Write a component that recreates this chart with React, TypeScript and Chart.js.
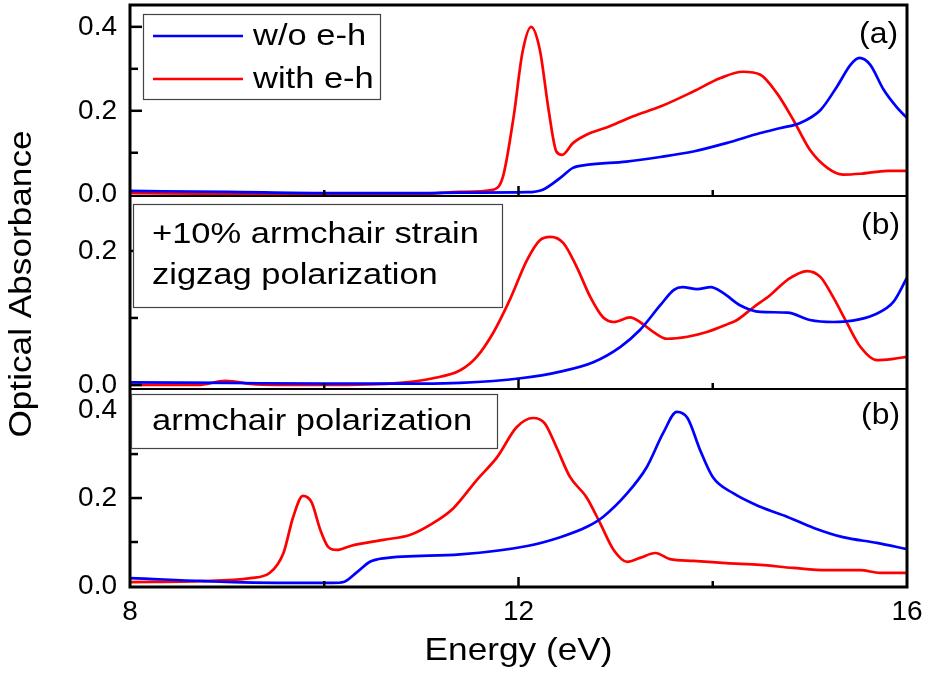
import React, { useEffect, useRef } from 'react';
import { Chart, registerables } from 'chart.js';

Chart.register(...registerables);

// ---------- axis ticks ----------
const xTickLabels = [8, 12, 16];
const xMinorTicks = [10, 14];
const yTicksA = [0, 0.2, 0.4];
const yMinorA = [0.1, 0.3];
const yTicksB = [0, 0.2];
const yMinorB = [0.1];
const yTicksC = [0, 0.2, 0.4];
const yMinorC = [0.1, 0.3];

// ---------- texts ----------
const seriesNames = ['w/o e-h', 'with e-h'];
const panelTags = ['(a)', '(b)', '(b)'];
const boxTextB = ['+10% armchair strain', 'zigzag polarization'];
const boxTextC = ['armchair polarization'];
const xTitle = 'Energy (eV)';
const yTitle = 'Optical Absorbance';

// ---------- panel (a) ----------
const aBlueE = [8, 9, 10, 11, 11.4, 12.09, 12.25, 12.43, 12.56, 12.7, 13.11, 13.46, 13.8, 14.14, 14.49, 14.7, 14.9, 15.11, 15.28, 15.42, 15.51, 15.62, 15.76, 15.9, 16.0];
const aBlueV = [0.009, 0.007, 0.004, 0.004, 0.005, 0.006, 0.012, 0.04, 0.064, 0.071, 0.079, 0.09, 0.103, 0.123, 0.147, 0.159, 0.171, 0.202, 0.258, 0.31, 0.326, 0.31, 0.25, 0.207, 0.183];
const aRedE = [8, 9, 10, 11, 11.4, 11.74, 11.84, 11.95, 12.04, 12.13, 12.22, 12.31, 12.39, 12.45, 12.56, 12.7, 12.94, 13.18, 13.46, 13.8, 14.08, 14.31, 14.49, 14.66, 14.83, 15.0, 15.18, 15.34, 15.52, 15.8, 16.0];
const aRedV = [0.004, 0.002, 0.001, 0.002, 0.007, 0.012, 0.043, 0.186, 0.338, 0.4, 0.345, 0.202, 0.103, 0.095, 0.123, 0.143, 0.163, 0.187, 0.21, 0.246, 0.278, 0.293, 0.286, 0.242, 0.178, 0.107, 0.064, 0.048, 0.05, 0.057, 0.057];

// ---------- panel (b) zigzag ----------
const bBlueE = [8, 9, 10, 11, 11.4, 12.02, 12.43, 12.77, 13.05, 13.25, 13.46, 13.6, 13.69, 13.84, 13.98, 14.11, 14.28, 14.49, 14.77, 15.0, 15.24, 15.44, 15.65, 15.86, 16];
const bBlueV = [0.004, 0.003, 0.002, 0.002, 0.003, 0.01, 0.02, 0.034, 0.057, 0.082, 0.119, 0.142, 0.146, 0.143, 0.146, 0.137, 0.119, 0.109, 0.108, 0.097, 0.094, 0.096, 0.104, 0.124, 0.16];
const bRedE = [8, 8.7, 8.98, 9.3, 10, 10.78, 11.12, 11.4, 11.57, 11.74, 11.91, 12.09, 12.22, 12.33, 12.46, 12.6, 12.74, 12.87, 12.98, 13.15, 13.25, 13.39, 13.53, 13.74, 13.94, 14.14, 14.25, 14.42, 14.59, 14.77, 14.97, 15.11, 15.24, 15.38, 15.52, 15.69, 15.86, 16];
const bRedV = [0.0, 0.0, 0.006, 0.001, 0.0, 0.003, 0.01, 0.022, 0.042, 0.078, 0.127, 0.187, 0.216, 0.221, 0.212, 0.176, 0.131, 0.101, 0.094, 0.101, 0.094, 0.079, 0.069, 0.072, 0.079, 0.09, 0.097, 0.116, 0.134, 0.157, 0.17, 0.161, 0.131, 0.093, 0.057, 0.037, 0.039, 0.042];

// ---------- panel (c) armchair ----------
const cBlueE = [8, 9.06, 10.09, 10.2, 10.34, 10.47, 10.61, 11.4, 12.09, 12.43, 12.7, 12.87, 13.12, 13.32, 13.49, 13.63, 13.74, 13.87, 14.0, 14.21, 14.49, 14.77, 15.04, 15.34, 15.69, 16];
const cBlueV = [0.018, 0.009, 0.007, 0.009, 0.032, 0.055, 0.063, 0.072, 0.091, 0.111, 0.134, 0.157, 0.211, 0.27, 0.348, 0.396, 0.382, 0.309, 0.248, 0.211, 0.18, 0.157, 0.132, 0.111, 0.098, 0.084];
const cRedE = [8, 8.72, 9.24, 9.44, 9.58, 9.68, 9.78, 9.87, 9.96, 10.04, 10.13, 10.27, 10.61, 10.88, 11.12, 11.33, 11.57, 11.78, 11.98, 12.15, 12.27, 12.39, 12.53, 12.7, 12.84, 12.98, 13.12, 13.25, 13.41, 13.56, 13.8, 14.14, 14.49, 14.83, 15.18, 15.52, 15.72, 16];
const cRedV = [0.009, 0.011, 0.018, 0.03, 0.075, 0.157, 0.205, 0.19, 0.127, 0.089, 0.082, 0.091, 0.105, 0.116, 0.143, 0.177, 0.241, 0.293, 0.361, 0.382, 0.37, 0.316, 0.248, 0.202, 0.143, 0.082, 0.055, 0.064, 0.075, 0.061, 0.057, 0.052, 0.048, 0.041, 0.036, 0.036, 0.03, 0.03];

const BLUE = '#0000ff';
const RED = '#ff0000';
const FONT = "'Liberation Sans', Arial, Helvetica, sans-serif";

const toPts = (xs: number[], ys: number[]) => xs.map((x, i) => ({ x, y: ys[i] }));

const line = (label: string, color: string, xs: number[], ys: number[], axis: string) => ({
  label,
  data: toPts(xs, ys),
  borderColor: color,
  backgroundColor: color,
  borderWidth: 2.7,
  pointRadius: 0,
  fill: false,
  cubicInterpolationMode: 'monotone' as const,
  yAxisID: axis,
});

// text drawn with a slight horizontal stretch, like the source figure
function stretchedText(
  ctx: CanvasRenderingContext2D,
  text: string,
  x: number,
  y: number,
  size: number,
  sx: number,
  align: CanvasTextAlign,
  rot = 0
) {
  ctx.save();
  ctx.translate(x, y);
  if (rot) ctx.rotate(rot);
  ctx.scale(sx, 1);
  ctx.font = `${size}px ${FONT}`;
  ctx.textAlign = align;
  ctx.textBaseline = 'middle';
  ctx.fillStyle = '#000';
  ctx.fillText(text, 0, 0);
  ctx.restore();
}

const decorPlugin = {
  id: 'decor',
  afterDatasetsDraw(chart: any) {
    const ctx = chart.ctx;
    const area = chart.chartArea;
    const L = area.left;
    const R = area.right;
    const panels = [
      { s: chart.scales.yA, major: yTicksA, minor: yMinorA },
      { s: chart.scales.yB, major: yTicksB, minor: yMinorB },
      { s: chart.scales.yC, major: yTicksC, minor: yMinorC },
    ];
    const xs = chart.scales.x;
    ctx.save();
    ctx.strokeStyle = '#000';
    ctx.lineCap = 'butt';
    // inward tick marks
    panels.forEach((p) => {
      const top = p.s.top;
      const bot = p.s.bottom;
      ctx.lineWidth = 2.5;
      p.major.forEach((v: number) => {
        const y = p.s.getPixelForValue(v);
        if (y < top + 2 || y > bot - 2) return;
        ctx.beginPath();
        ctx.moveTo(L, y);
        ctx.lineTo(L + 12, y);
        ctx.stroke();
      });
      p.minor.forEach((v: number) => {
        const y = p.s.getPixelForValue(v);
        ctx.beginPath();
        ctx.moveTo(L, y);
        ctx.lineTo(L + 8, y);
        ctx.stroke();
      });
      xTickLabels.forEach((v) => {
        const x = xs.getPixelForValue(v);
        if (x < L + 2 || x > R - 2) return;
        ctx.beginPath();
        ctx.moveTo(x, bot);
        ctx.lineTo(x, bot - 10);
        ctx.stroke();
      });
      xMinorTicks.forEach((v) => {
        const x = xs.getPixelForValue(v);
        ctx.beginPath();
        ctx.moveTo(x, bot);
        ctx.lineTo(x, bot - 6);
        ctx.stroke();
      });
    });
    // panel separators
    ctx.lineWidth = 2.2;
    [chart.scales.yA.bottom, chart.scales.yB.bottom].forEach((y: number) => {
      ctx.beginPath();
      ctx.moveTo(L, y);
      ctx.lineTo(R, y);
      ctx.stroke();
    });
    // outer frame
    ctx.lineWidth = 3;
    ctx.strokeRect(L, area.top, R - L, area.bottom - area.top);

    // legend box (panel a)
    ctx.fillStyle = '#fff';
    ctx.fillRect(143, 14, 237, 85);
    ctx.lineWidth = 1.2;
    ctx.strokeStyle = '#444';
    ctx.strokeRect(143.5, 14.5, 237, 85);
    const legendRows = [
      { c: BLUE, y: 36, t: seriesNames[0] },
      { c: RED, y: 79, t: seriesNames[1] },
    ];
    legendRows.forEach((r) => {
      ctx.strokeStyle = r.c;
      ctx.lineWidth = 2.7;
      ctx.beginPath();
      ctx.moveTo(153, r.y);
      ctx.lineTo(243, r.y);
      ctx.stroke();
      stretchedText(ctx, r.t, 253, r.y + 1, 30, 1.15, 'left');
    });

    // text box panel b
    ctx.fillStyle = '#fff';
    ctx.fillRect(133, 204, 369, 103);
    ctx.strokeStyle = '#444';
    ctx.lineWidth = 1.2;
    ctx.strokeRect(133.5, 204.5, 369, 103);
    stretchedText(ctx, boxTextB[0], 152, 235, 30, 1.15, 'left');
    stretchedText(ctx, boxTextB[1], 152, 276, 30, 1.15, 'left');

    // text box panel c
    ctx.fillStyle = '#fff';
    ctx.fillRect(131, 394, 366, 54);
    ctx.strokeStyle = '#444';
    ctx.lineWidth = 1.2;
    ctx.strokeRect(131.5, 394.5, 366, 54);
    stretchedText(ctx, boxTextC[0], 152, 422, 30, 1.15, 'left');

    // panel tags
    stretchedText(ctx, panelTags[0], 898, 35, 29, 1.1, 'right');
    stretchedText(ctx, panelTags[1], 900, 226, 29, 1.1, 'right');
    stretchedText(ctx, panelTags[2], 900, 416, 29, 1.1, 'right');

    // axis titles
    stretchedText(ctx, xTitle, (L + R) / 2, 651, 32, 1.1, 'center');
    stretchedText(ctx, yTitle, 22, 284, 32, 1.1, 'center', -Math.PI / 2);

    ctx.restore();
  },
};

const yAxis = (min: number, max: number, weight: number, ticks: number[]) => ({
  type: 'linear' as const,
  position: 'left' as const,
  stack: 'panels',
  stackWeight: weight,
  min,
  max,
  offset: false,
  grid: { display: false, drawTicks: false },
  border: { display: false },
  afterBuildTicks: (s: any) => {
    s.ticks = ticks.map((v) => ({ value: v }));
  },
  afterFit: (s: any) => {
    s.width = 130;
    s.paddingTop = 0;
    s.paddingBottom = 0;
  },
  ticks: {
    padding: 13,
    color: '#000',
    font: { family: FONT, size: 28 },
    callback: (v: any) => Number(v).toFixed(1),
  },
});

export default function App() {
  const ref = useRef<HTMLCanvasElement | null>(null);
  useEffect(() => {
    if (!ref.current) return;
    const chart = new Chart(ref.current, {
      type: 'line',
      data: {
        datasets: [
          line(seriesNames[0], BLUE, aBlueE, aBlueV, 'yA'),
          line(seriesNames[1], RED, aRedE, aRedV, 'yA'),
          line(seriesNames[0], BLUE, bBlueE, bBlueV, 'yB'),
          line(seriesNames[1], RED, bRedE, bRedV, 'yB'),
          line(seriesNames[0], BLUE, cBlueE, cBlueV, 'yC'),
          line(seriesNames[1], RED, cRedE, cRedV, 'yC'),
        ],
      },
      options: {
        responsive: false,
        animation: false,
        layout: { padding: { top: 5, right: 18, left: 0, bottom: 0 } },
        plugins: { legend: { display: false }, tooltip: { enabled: false } },
        scales: {
          x: {
            type: 'linear',
            position: 'bottom',
            min: 8,
            max: 16,
            grid: { display: false, drawTicks: false },
            border: { display: false },
            afterBuildTicks: (s: any) => {
              s.ticks = xTickLabels.map((v) => ({ value: v }));
            },
            afterFit: (s: any) => {
              s.height = 87;
              s.paddingLeft = 0;
              s.paddingRight = 0;
            },
            ticks: {
              padding: 8,
              color: '#000',
              maxRotation: 0,
              font: { family: FONT, size: 28 },
              callback: (v: any) => String(v),
            },
          },
          // stacked panels: first defined is drawn at the bottom
          yC: yAxis(-0.0023, 0.448, 198, yTicksC),
          yB: yAxis(-0.006, 0.282, 193, yTicksB),
          yA: yAxis(-0.003, 0.452, 191, yTicksA),
        },
      } as any,
      plugins: [decorPlugin],
    });
    return () => chart.destroy();
  }, []);
  return (
    <div style={{ position: 'absolute', left: 0, top: 0, width: 925, height: 674, background: '#fff' }}>
      <canvas ref={ref} width={925} height={674} style={{ display: 'block' }} />
    </div>
  );
}
